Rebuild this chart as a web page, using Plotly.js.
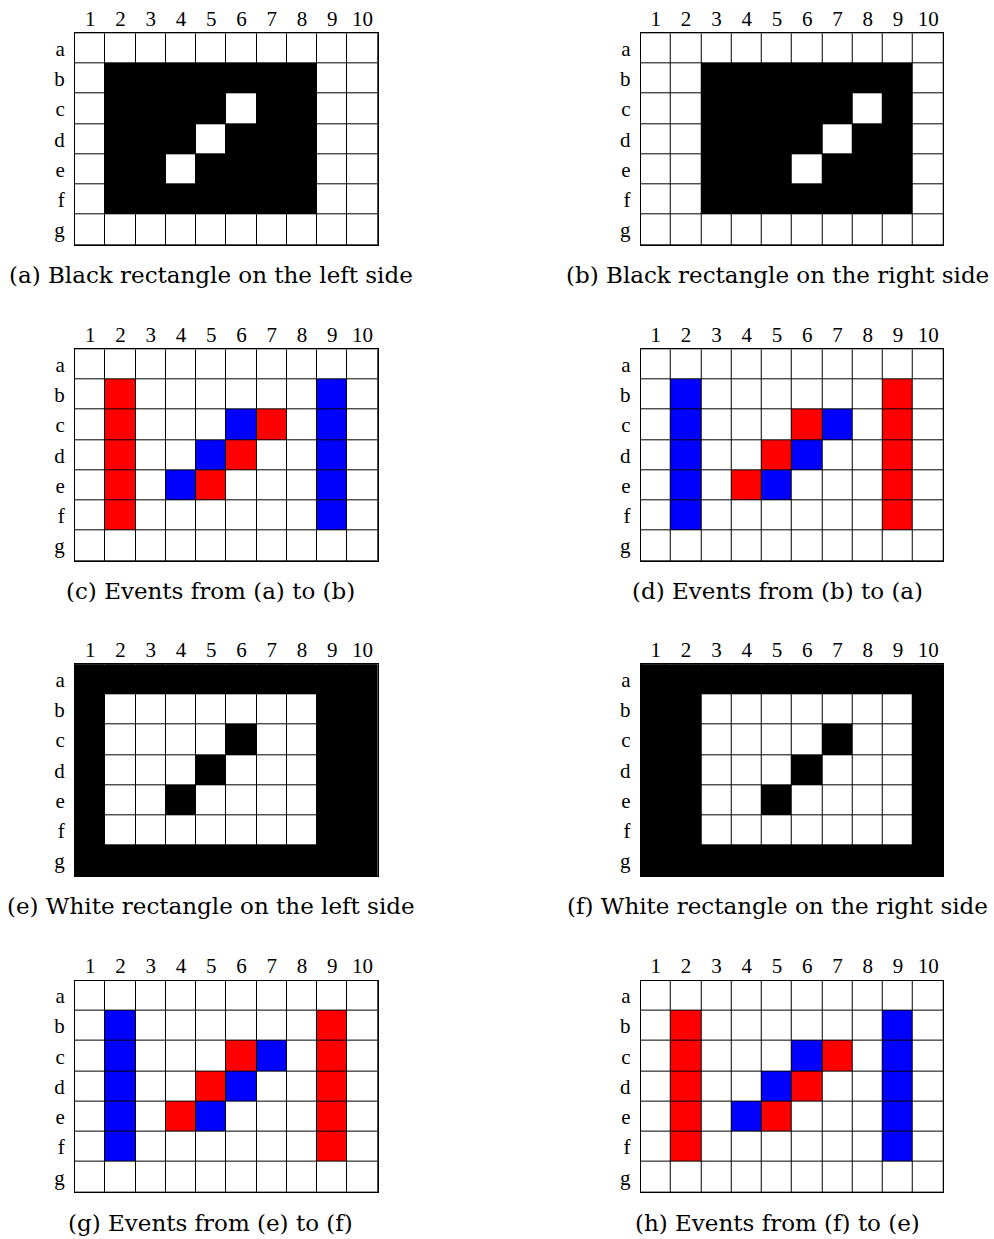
<!DOCTYPE html>
<html>
<head>
<meta charset="utf-8">
<script src="https://cdn.plot.ly/plotly-3.0.1.min.js"></script>
<style>html,body{margin:0;padding:0;background:#fff;}#chart{width:994px;height:1239px;}</style>
</head>
<body>
<div id="chart"></div>
<script>
// Column and row labels
const colLabels = ['1','2','3','4','5','6','7','8','9','10'];
const rowLabels = ['a','b','c','d','e','f','g'];

// Cell states: 0 = white, 1 = black, 2 = red, 3 = blue
const panelA = ['0000000000','0111111100','0111101100','0111011100','0110111100','0111111100','0000000000'];
const panelB = ['0000000000','0011111110','0011111010','0011110110','0011101110','0011111110','0000000000'];
const panelC = ['0000000000','0200000030','0200032030','0200320030','0203200030','0200000030','0000000000'];
const panelD = ['0000000000','0300000020','0300023020','0300230020','0302300020','0300000020','0000000000'];
const panelE = ['1111111111','1000000011','1000010011','1000100011','1001000011','1000000011','1111111111'];
const panelF = ['1111111111','1100000001','1100001001','1100010001','1100100001','1100000001','1111111111'];
const panelG = ['0000000000','0300000020','0300023020','0300230020','0302300020','0300000020','0000000000'];
const panelH = ['0000000000','0200000030','0200032030','0200320030','0203200030','0200000030','0000000000'];

const captions = [
  '(a) Black rectangle on the left side',
  '(b) Black rectangle on the right side',
  '(c) Events from (a) to (b)',
  '(d) Events from (b) to (a)',
  '(e) White rectangle on the left side',
  '(f) White rectangle on the right side',
  '(g) Events from (e) to (f)',
  '(h) Events from (f) to (e)'
];

const panels = [panelA, panelB, panelC, panelD, panelE, panelF, panelG, panelH];

const W = 994, H = 1239;
const FONT = 'Liberation Serif, Times New Roman, serif';
const CAPFONT = 'DejaVu Serif, serif';
const gridLeft = [75, 640.7];
const gridW = 302.7;
const gridTop = [33.3, 349.3, 664.3, 980.6];
const gridH = 211.7;
const capX = [210.5, 777];
const capYoff = 242; // caption center offset from grid top

const colorscale = [[0, '#ffffff'], [1/3, '#000000'], [2/3, '#ff0000'], [1, '#0000ff']];

const data = [];
const layout = {
  width: W, height: H,
  margin: {l: 0, r: 0, t: 0, b: 0},
  paper_bgcolor: '#ffffff',
  plot_bgcolor: '#000000',
  showlegend: false,
  font: {family: FONT, color: '#000', size: 20},
  annotations: []
};

panels.forEach((p, i) => {
  const col = i % 2, row = Math.floor(i / 2);
  const n = i + 1;
  const xa = n === 1 ? 'x' : 'x' + n;
  const ya = n === 1 ? 'y' : 'y' + n;
  const z = p.map(s => s.split('').map(Number));
  data.push({
    type: 'heatmap',
    z: z,
    x: colLabels.map((c, k) => k + 1),
    y: rowLabels.map((r, k) => k),
    zmin: 0, zmax: 3,
    colorscale: colorscale,
    showscale: false,
    xgap: 1, ygap: 1,
    hoverinfo: 'skip',
    xaxis: xa, yaxis: ya
  });
  const x0 = gridLeft[col] / W, x1 = (gridLeft[col] + gridW) / W;
  const y1 = 1 - gridTop[row] / H, y0 = 1 - (gridTop[row] + gridH) / H;
  layout['xaxis' + (n === 1 ? '' : n)] = {
    domain: [x0, x1], anchor: ya, side: 'top',
    range: [0.5, 10.5], fixedrange: true,
    tickmode: 'array', tickvals: colLabels.map((c, k) => k + 1), ticktext: colLabels,
    ticks: '', showgrid: false, zeroline: false,
    showline: true, linecolor: '#000', linewidth: 1, mirror: true,
    ticklabelstandoff: -2,
    tickfont: {family: FONT, size: 21, color: '#000'}
  };
  layout['yaxis' + (n === 1 ? '' : n)] = {
    domain: [y0, y1], anchor: xa,
    range: [6.5, -0.5], fixedrange: true,
    tickmode: 'array', tickvals: rowLabels.map((r, k) => k), ticktext: rowLabels,
    ticks: '', showgrid: false, zeroline: false,
    showline: true, linecolor: '#000', linewidth: 1, mirror: true,
    ticklabelstandoff: 5,
    tickfont: {family: FONT, size: 21, color: '#000'}
  };
  layout.annotations.push({
    xref: 'paper', yref: 'paper',
    x: capX[col] / W, y: 1 - (gridTop[row] + capYoff) / H,
    xanchor: 'center', yanchor: 'middle',
    text: captions[i], showarrow: false,
    font: {family: CAPFONT, size: 23, color: '#000'}
  });
});

Plotly.newPlot('chart', data, layout, {staticPlot: true, displayModeBar: false});
</script>
</body>
</html>
